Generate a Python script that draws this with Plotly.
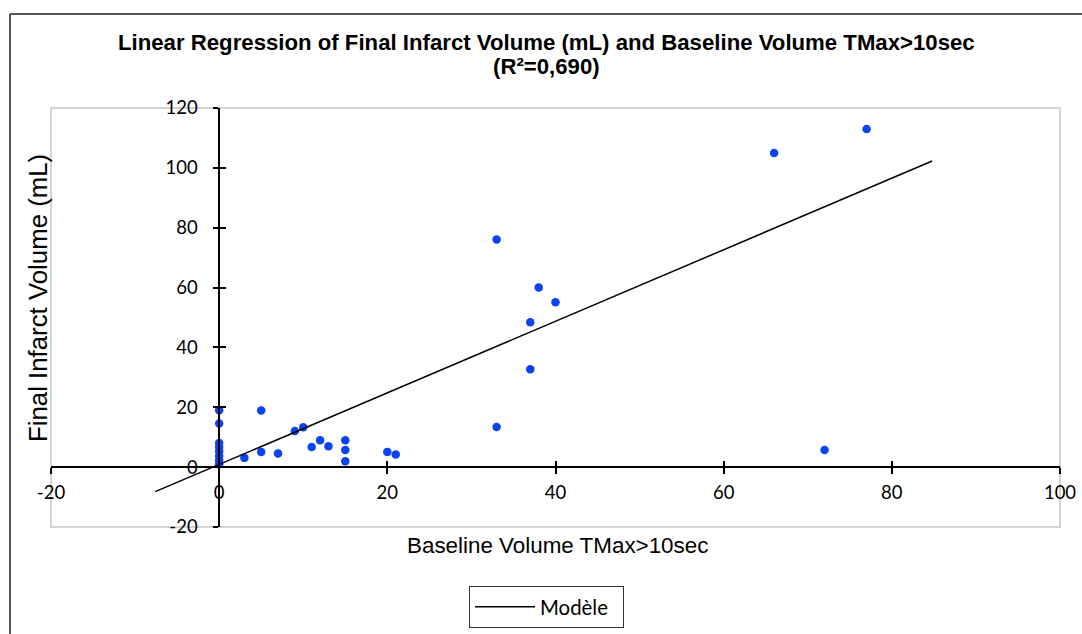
import plotly.graph_objects as go

# ---- data ----
baseline_volume = [0, 0, 0, 0, 0, 0, 0, 0,
                   3, 5, 5, 7, 9, 10, 11, 12, 13, 15, 15, 15, 20, 21,
                   33, 33, 37, 37, 38, 40, 66, 72, 77]
final_infarct = [19.0, 14.6, 8.1, 6.8, 5.3, 3.8, 2.3, 1.0,
                 3.1, 18.9, 5.1, 4.6, 12.1, 13.3, 6.7, 9.0, 7.0, 9.0, 5.7, 2.0, 5.1, 4.2,
                 76.1, 13.4, 48.4, 32.7, 60.0, 55.1, 105.0, 5.7, 113.0]
model_x = [-7.6, 84.8]
model_y = [-8.2, 102.3]

x_ticks = [-20, 0, 20, 40, 60, 80, 100]
x_tick_labels = ["-20", "0", "20", "40", "60", "80", "100"]
y_ticks = [-20, 0, 20, 40, 60, 80, 100, 120]
y_tick_labels = ["-20", "0", "20", "40", "60", "80", "100", "120"]
x_range = [-20, 100]
y_range = [-20, 120]

title_line1 = "Linear Regression of Final Infarct Volume (mL) and Baseline Volume TMax>10sec"
title_line2 = "(R²=0,690)"
x_title = "Baseline Volume TMax>10sec"
y_title = "Final Infarct Volume (mL)"
legend_name = "Modèle"

# the page body margin is removed (post_script), so the figure fills the window
W, H = 1082, 634
PL, PT, PR, PB = 51, 108, 1060, 527   # plot area in figure px
ML, MT, MR, MB = PL, PT, W - PR, H - PB
PW, PH = PR - PL, PB - PT


def px_x(p):  # window x pixel -> paper
    return (p - PL) / PW


def px_y(p):  # window y pixel -> paper
    return (PB - p) / PH


fig = go.Figure()

fig.add_trace(go.Scatter(
    x=baseline_volume, y=final_infarct, mode="markers",
    marker=dict(color="#0a44f0", size=8.5, line=dict(width=0)),
    showlegend=False, hoverinfo="x+y"))

fig.add_trace(go.Scatter(
    x=model_x, y=model_y, mode="lines", name=legend_name,
    line=dict(color="#000000", width=1.5), showlegend=True))

# dummy trace for overlay axes (inside half of cross ticks)
fig.add_trace(go.Scatter(x=[None], y=[None], xaxis="x2", yaxis="y2",
                         showlegend=False, hoverinfo="skip"))

x_pos = (0 - y_range[0]) / (y_range[1] - y_range[0])
y_pos = (0 - x_range[0]) / (x_range[1] - x_range[0])

tickfont = dict(family="Lato", size=18.5, color="#000000")

fig.update_layout(
    width=W, height=H,
    margin=dict(l=ML, r=MR, t=MT, b=MB, pad=0, autoexpand=False),
    paper_bgcolor="white", plot_bgcolor="white",
    xaxis=dict(range=x_range, anchor="free", position=x_pos,
               tickvals=x_ticks, ticktext=x_tick_labels,
               showline=True, linecolor="#000000", linewidth=1.5,
               ticks="outside", ticklen=6, tickwidth=1.5, tickcolor="#000000",
               showgrid=False, zeroline=False, tickfont=tickfont,
               ticklabelstandoff=3),
    yaxis=dict(range=y_range, anchor="free", position=y_pos,
               tickvals=y_ticks, ticktext=y_tick_labels,
               showline=True, linecolor="#000000", linewidth=1.5,
               ticks="outside", ticklen=5, tickwidth=1.5, tickcolor="#000000",
               showgrid=False, zeroline=False, tickfont=tickfont,
               ticklabelstandoff=12),
    xaxis2=dict(range=x_range, overlaying="x", anchor="free", position=x_pos,
                tickvals=x_ticks, showline=False, ticks="inside", ticklen=6,
                tickwidth=1.5, tickcolor="#000000", showticklabels=False,
                showgrid=False, zeroline=False),
    yaxis2=dict(range=y_range, overlaying="y", anchor="free", position=y_pos,
                tickvals=y_ticks, showline=False, ticks="inside", ticklen=6,
                tickwidth=1.5, tickcolor="#000000", showticklabels=False,
                showgrid=False, zeroline=False),
    legend=dict(orientation="h", x=px_x(469), xanchor="left",
                y=px_y(586), yanchor="top", bgcolor="white",
                bordercolor="#333333", borderwidth=1, itemwidth=60,
                entrywidth=78,
                font=dict(family="Lato", size=20.4, color="#000000")),
    showlegend=True,
)

fig.add_annotation(text=title_line1, xref="paper", yref="paper",
                   x=px_x(546.5), y=px_y(42.5), xanchor="center", yanchor="middle",
                   showarrow=False,
                   font=dict(family="Liberation Sans", size=22.2, color="#000000", weight="bold"))
fig.add_annotation(text=title_line2, xref="paper", yref="paper",
                   x=px_x(546.5), y=px_y(66.5), xanchor="center", yanchor="middle",
                   showarrow=False,
                   font=dict(family="Liberation Sans", size=22.2, color="#000000", weight="bold"))
fig.add_annotation(text=x_title, xref="paper", yref="paper",
                   x=px_x(557.5), y=px_y(545), xanchor="center", yanchor="middle",
                   showarrow=False,
                   font=dict(family="Liberation Sans", size=22.4, color="#000000"))
fig.add_annotation(text=y_title, xref="paper", yref="paper", textangle=-90,
                   x=px_x(38), y=px_y(298), xanchor="center", yanchor="middle",
                   showarrow=False,
                   font=dict(family="Liberation Sans", size=25.8, color="#000000"))

# plot-area frame
fig.add_shape(type="rect", xref="paper", yref="paper", x0=0, x1=1, y0=0, y1=1,
              line=dict(color="#d4d4d4", width=2), layer="below")
# outer frame (top and left edges)
fig.add_shape(type="line", xref="paper", yref="paper",
              x0=px_x(10), x1=px_x(1082), y0=px_y(14), y1=px_y(14),
              line=dict(color="#555555", width=2))
fig.add_shape(type="line", xref="paper", yref="paper",
              x0=px_x(10), x1=px_x(10), y0=px_y(14), y1=px_y(634),
              line=dict(color="#555555", width=2))

fig.write_html(
    "out.html",
    config={"displayModeBar": False},
    post_script="document.body.style.margin='0';document.body.style.overflow='hidden';",
)
